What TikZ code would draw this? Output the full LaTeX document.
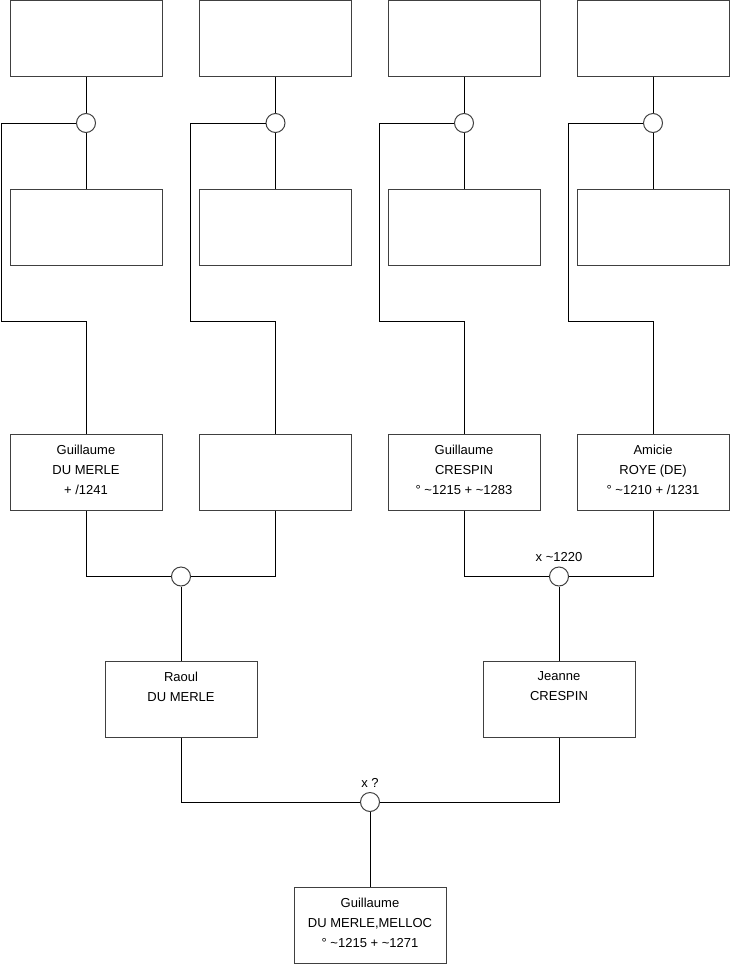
\documentclass[tikz,border=0pt]{standalone}
\usepackage{fontspec}
\setmainfont{Liberation Sans}

\begin{document}
\begin{tikzpicture}[x=1pt,y=-1pt,line width=1pt,
	person/.style={draw=black!75,fill=white,minimum width=152pt,minimum height=76pt,inner sep=0pt},
	union/.style={circle,draw=black!75,fill=white,minimum size=19pt,inner sep=0pt},
	names/.style={anchor=north,yshift=-11pt,inner sep=0pt,align=center,font=\fontsize{13}{20}\selectfont},
	wed/.style={inner sep=0pt,label distance=4pt,font=\fontsize{13}{15}\selectfont}]
	\useasboundingbox (0,0) rectangle (740,975);
	% great-grandparents and their unions
	\foreach \i/\x in {1/86,2/275.5,3/464,4/653} {
		\node[person] (a\i) at (\x,38) {};
		\node[union] (m\i) at (\x,123) {};
		\node[person] (b\i) at (\x,227) {};
		\coordinate (k\i) at ({\x-85},321);
	}
	% grandparents
	\node[person,label={[names]north:{Guillaume\\DU MERLE\\+ /1241}}] (p1) at (86,472.5) {};
	\node[person] (p2) at (275.5,472.5) {};
	\node[person,label={[names]north:{Guillaume\\CRESPIN\\° \textasciitilde1215 + \textasciitilde1283}}] (p3) at (464,472.5) {};
	\node[person,label={[names]north:{Amicie\\ROYE (DE)\\° \textasciitilde1210 + /1231}}] (p4) at (653,472.5) {};
	\foreach \i in {1,...,4} {
		\draw (a\i) -- (m\i);
		\draw (m\i) -- (b\i);
		\draw (m\i.west) -| (k\i) -| (p\i.north);
	}
	% parents
	\node[union] (u1) at (181,576.5) {};
	\node[union,label={[wed]above:{x \textasciitilde1220}}] (u2) at (559,576.5) {};
	\node[person,label={[names]north:{Raoul\\DU MERLE}}] (c1) at (181,699) {};
	\node[person,label={[names]north:{Jeanne\\CRESPIN}}] (c2) at (559,699) {};
	\draw (p1.south) |- (u1.west);
	\draw (p2.south) |- (u1.east);
	\draw (p3.south) |- (u2.west);
	\draw (p4.south) |- (u2.east);
	\draw (u1) -- (c1);
	\draw (u2) -- (c2);
	% root
	\node[union,label={[wed]above:{x ?}}] (u3) at (370,802) {};
	\node[person,label={[names]north:{Guillaume\\DU MERLE,MELLOC\\° \textasciitilde1215 + \textasciitilde1271}}] (r) at (370,925.5) {};
	\draw (c1.south) |- (u3.west);
	\draw (c2.south) |- (u3.east);
	\draw (u3) -- (r);
\end{tikzpicture}
\end{document}
